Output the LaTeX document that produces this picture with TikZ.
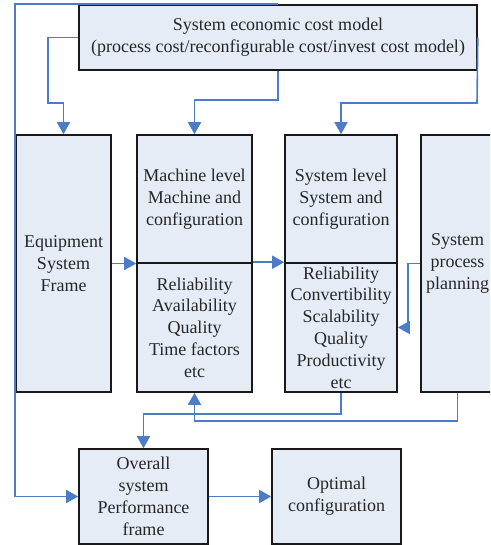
\documentclass[tikz,border=0pt]{standalone}
\usepackage{fontspec}
\setmainfont{Liberation Serif}
\usetikzlibrary{arrows.meta}
\definecolor{boxfill}{HTML}{E6ECF6}
\definecolor{linkblue}{HTML}{4A7CC8}
\tikzset{
  block/.style={draw=black!90, line width=1.6pt, fill=boxfill, inner sep=0pt,
    align=center, font=\fontsize{18}{21.8}\selectfont, text=black!85},
  link/.style={draw=linkblue, line width=1.6pt},
  arr/.style={link, -{Triangle[length=12pt,width=13pt]}},
}
\begin{document}
\begin{tikzpicture}[x=1pt,y=-1pt]
\clip (0,0) rectangle (490,545);
\useasboundingbox (0,0) rectangle (490,545);

% boxes
\node[block, minimum width=398pt, minimum height=65pt] (cost) at (278,37.5)
  {System economic cost model\\(process cost/reconfigurable cost/invest cost model)};
\node[block, minimum width=95pt, minimum height=257pt] (equip) at (63.5,263.5)
  {Equipment\\System\\Frame};
\node[block, minimum width=115pt, minimum height=128pt] (mtop) at (194.5,199)
  {Machine level\\Machine and\\configuration};
\node[block, minimum width=115pt, minimum height=129pt] (mbot) at (194.5,327.5)
  {Reliability\\Availability\\Quality\\Time factors\\etc};
\node[block, minimum width=112pt, minimum height=128pt] (stop) at (341,199)
  {System level\\System and\\configuration};
\node[block, minimum width=112pt, minimum height=129pt] (sbot) at (341,327.5)
  {Reliability\\Convertibility\\Scalability\\Quality\\Productivity\\etc};
\node[block, minimum width=73pt, minimum height=257pt] (plan) at (457.5,263.5)
  {System\\process\\planning};
\node[block, minimum width=129pt, minimum height=95pt] (overall) at (143.5,496.5)
  {Overall\\system\\Performance\\frame};
\node[block, minimum width=129pt, minimum height=95pt] (optimal) at (336.5,496.5)
  {Optimal\\configuration};

% bend points of the connectors
\coordinate (j1) at (48,103);
\coordinate (j2) at (194.5,100);
\coordinate (j3) at (477,103);
\coordinate (j4) at (143.5,414);
\coordinate (j5) at (194.5,421);

% connectors
\draw[arr] (cost.north) -| (equip.north west) -- (equip.south west) |- (overall.west);
\draw[arr] (cost.west) -| (j1) -| (equip.north);
\draw[arr] (cost.south) |- (j2) -- (mtop.north);
\draw[arr] (cost.east) -- (j3) -| (stop.north);
\draw[arr] (equip.east) -- (equip.east -| mbot.north west);
\draw[arr] (mbot.north east) -- (sbot.north west);
\draw[arr] (plan.west) -- ++(-12,0) |- (sbot.east);
\draw[arr] (sbot.south) |- (j4) -- (overall.north);
\draw[arr] (plan.south) |- (j5) -- (mbot.south);
\draw[arr] (overall.east) -- (optimal.west);
\end{tikzpicture}
\end{document}
